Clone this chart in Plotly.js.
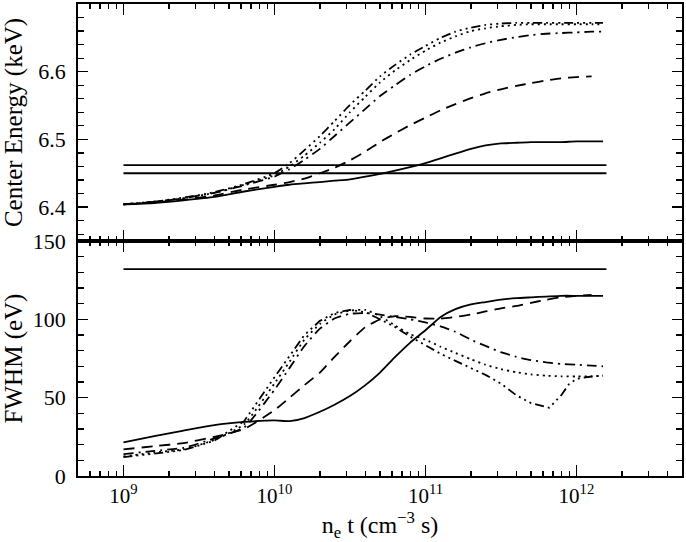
<!DOCTYPE html>
<html>
<head>
<meta charset="utf-8">
<script src="https://cdn.plot.ly/plotly-3.0.1.min.js"></script>
<style>html,body{margin:0;padding:0;background:#fff;}#chart{width:686px;height:542px;}</style>
</head>
<body>
<div id="chart"></div>
<script>
// n_e t grid (cm^-3 s)
const ntGrid = [1.0e9,1.6e9,2.5e9,4.0e9,6.3e9,1.0e10,1.26e10,1.58e10,2.0e10,2.5e10,3.16e10,4.0e10,5.0e10,6.3e10,7.9e10,1.0e11,1.26e11,1.58e11,2.0e11,2.5e11,3.16e11,4.0e11,5.0e11,6.3e11,7.9e11,1.0e12,1.26e12,1.5e12];
const ntDashed = [1.0e9,1.6e9,2.5e9,4.0e9,6.3e9,1.0e10,1.26e10,1.58e10,2.0e10,2.5e10,3.16e10,4.0e10,5.0e10,6.3e10,7.9e10,1.0e11,1.26e11,1.58e11,2.0e11,2.5e11,3.16e11,4.0e11,5.0e11,6.3e11,7.9e11,1.0e12,1.26e12];
const ntDddotW = [1.0e9,1.6e9,2.5e9,4.0e9,6.3e9,1.0e10,1.26e10,1.58e10,2.0e10,2.5e10,3.16e10,4.0e10,5.0e10,6.3e10,7.9e10,1.0e11,1.26e11,1.58e11,2.0e11,2.5e11,3.16e11,4.0e11,5.0e11,6.6e11,8.0e11,8.9e11,1.0e12,1.26e12,1.5e12];
const refX = [1.0e9, 1.58e12];

// Center energy (keV)
const solidE   = [6.404,6.406,6.410,6.415,6.423,6.430,6.433,6.435,6.437,6.439,6.441,6.445,6.449,6.454,6.459,6.465,6.472,6.479,6.486,6.491,6.494,6.495,6.496,6.496,6.496,6.497,6.497,6.497];
const dashedE  = [6.404,6.407,6.411,6.417,6.426,6.433,6.437,6.442,6.450,6.458,6.469,6.482,6.496,6.509,6.521,6.532,6.543,6.552,6.561,6.568,6.574,6.579,6.583,6.587,6.590,6.592,6.593];
const dashDotE = [6.404,6.408,6.413,6.421,6.432,6.445,6.456,6.470,6.486,6.505,6.525,6.545,6.564,6.580,6.595,6.608,6.619,6.628,6.636,6.642,6.647,6.651,6.654,6.656,6.657,6.658,6.659,6.659];
const dottedE  = [6.404,6.408,6.413,6.421,6.433,6.447,6.460,6.476,6.495,6.515,6.540,6.563,6.584,6.602,6.617,6.631,6.643,6.652,6.660,6.664,6.667,6.669,6.670,6.670,6.670,6.670,6.670,6.670];
const dddotE   = [6.404,6.408,6.414,6.422,6.434,6.450,6.465,6.484,6.505,6.527,6.551,6.572,6.593,6.610,6.625,6.638,6.650,6.659,6.665,6.669,6.671,6.672,6.672,6.672,6.672,6.672,6.672,6.672];
const refE1 = [6.462, 6.462];
const refE2 = [6.450, 6.450];

// FWHM (eV)
const solidW   = [21.5,25.5,29,32.5,34.5,35.5,35,37,41,45.5,51,58,66,76,85,93,101.5,106.5,109.5,111,112.5,113.5,114,114.5,115,115,115,115];
const dashedW  = [17,19,21,25,30,42,50,58,66,76,86,95,100,102,101.5,100.5,100.5,101.5,103,105,107,108.5,110.5,112.5,114,115,115.5];
const dashDotW = [14,16,18,24,31,55,69,83,94,100.5,103.5,104,103,101.5,100,98,95.5,92,87,83,79,76,74,72.5,71.5,71,70.5,70];
const dottedW  = [12.5,15,17,23,33,59,73,87,97,103,105.5,106,102,96,90.5,87,82.5,78.5,74.5,71,68.2,66.2,64.8,64,63.6,63.5,63.6,64];
const dddotW   = [12,14.5,16.5,22.5,35,63,77,90,99,104,106,104.5,100,95,89,83.5,78,73.5,69,64.5,59,51.5,46.5,43.5,52,58.5,62,63.5,64];
const refW = [132, 132];

const xTickVals = [1e9, 1e10, 1e11, 1e12];
const xTickText = ['10<sup>9</sup>', '10<sup>10</sup>', '10<sup>11</sup>', '10<sup>12</sup>'];

const DASH = {
  solid: 'solid',
  dashed: '11px,7px',
  dashDot: '10px,5px,2px,5px',
  dotted: '2px,4px',
  dddot: '9px,4px,2px,4px,2px,4px,2px,4px'
};
const LW = 1.8;
const spl = {shape: 'spline', smoothing: 0.5};

function tr(x, y, dash, ax, shape) {
  return {
    x: x, y: y, type: 'scatter', mode: 'lines',
    xaxis: ax === 'top' ? 'x2' : 'x', yaxis: ax === 'top' ? 'y' : 'y2',
    line: Object.assign({color: '#000', width: LW, dash: dash}, shape || spl),
    hoverinfo: 'skip', showlegend: false
  };
}

const data = [
  tr(refX, refE1, 'solid', 'top', {shape: 'linear'}),
  tr(refX, refE2, 'solid', 'top', {shape: 'linear'}),
  tr(ntGrid, solidE, DASH.solid, 'top'),
  tr(ntDashed, dashedE, DASH.dashed, 'top'),
  tr(ntGrid, dashDotE, DASH.dashDot, 'top'),
  tr(ntGrid, dottedE, DASH.dotted, 'top'),
  tr(ntGrid, dddotE, DASH.dddot, 'top'),
  tr(refX, refW, 'solid', 'bot', {shape: 'linear'}),
  tr(ntGrid, solidW, DASH.solid, 'bot'),
  tr(ntDashed, dashedW, DASH.dashed, 'bot'),
  tr(ntGrid, dashDotW, DASH.dashDot, 'bot'),
  tr(ntGrid, dottedW, DASH.dotted, 'bot'),
  tr(ntDddotW, dddotW, DASH.dddot, 'bot', {shape: 'linear'})
];

const FONT = '"Liberation Serif", "Times New Roman", Times, serif';
const xRange = [Math.log10(5e8), Math.log10(5e12)];
const split = 0.498;

const xCommon = {
  type: 'log', range: xRange,
  tickmode: 'array', tickvals: xTickVals, ticktext: xTickText,
  ticks: 'inside', ticklen: 11, tickwidth: 1.5, tickcolor: '#000',
  minor: {ticks: 'inside', ticklen: 5, tickwidth: 1.2, tickcolor: '#000', dtick: 'D1'},
  showline: true, linewidth: 1.8, linecolor: '#000', mirror: 'ticks',
  showgrid: false, zeroline: false
};

const layout = {
  width: 686, height: 542,
  margin: {l: 78, r: 4, t: 4, b: 66},
  paper_bgcolor: '#fff', plot_bgcolor: '#fff',
  font: {family: FONT, color: '#000', size: 21},
  showlegend: false,
  xaxis: Object.assign({}, xCommon, {
    anchor: 'y2', domain: [0, 1],
    tickfont: {family: FONT, size: 21, color: '#000'},
    title: {text: 'n<sub>e</sub> t (cm<sup>\u22123</sup> s)', font: {family: FONT, size: 24, color: '#000'}, standoff: 8}
  }),
  xaxis2: Object.assign({}, xCommon, {
    anchor: 'y', matches: 'x', showticklabels: false
  }),
  yaxis: {
    domain: [split, 1], range: [6.35, 6.6999],
    tick0: 6.4, dtick: 0.1, tickformat: '.1f',
    ticks: 'inside', ticklen: 10, tickwidth: 1.5, tickcolor: '#000',
    minor: {ticks: 'inside', ticklen: 6, tickwidth: 1.2, tickcolor: '#000', tick0: 6.36, dtick: 0.02},
    showline: true, linewidth: 1.8, linecolor: '#000', mirror: 'ticks',
    showgrid: false, zeroline: false,
    tickfont: {family: FONT, size: 22, color: '#000'}, ticklabelstandoff: 6,
    title: {text: 'Center Energy (keV)', font: {family: FONT, size: 25, color: '#000'}, standoff: 8}
  },
  yaxis2: {
    domain: [0, split], range: [0, 150],
    tick0: 0, dtick: 50,
    ticks: 'inside', ticklen: 10, tickwidth: 1.5, tickcolor: '#000',
    minor: {ticks: 'inside', ticklen: 6, tickwidth: 1.2, tickcolor: '#000', dtick: 10},
    showline: true, linewidth: 1.8, linecolor: '#000', mirror: 'ticks',
    showgrid: false, zeroline: false,
    tickfont: {family: FONT, size: 22, color: '#000'}, ticklabelstandoff: 6,
    title: {text: 'FWHM (eV)', font: {family: FONT, size: 25, color: '#000'}, standoff: 8}
  }
};

Plotly.newPlot('chart', data, layout, {displayModeBar: false, staticPlot: true});
</script>
</body>
</html>
